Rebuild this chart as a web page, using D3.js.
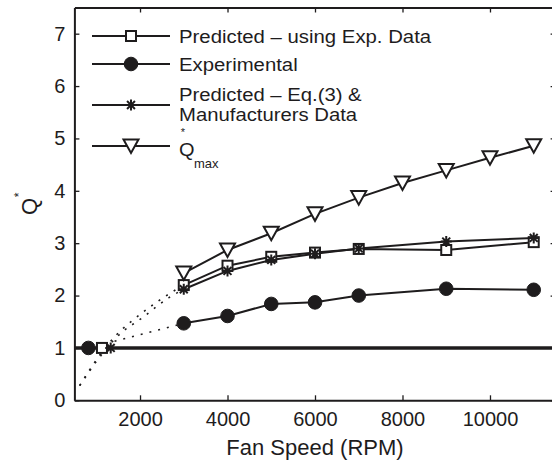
<!DOCTYPE html>
<html>
<head>
<meta charset="utf-8">
<script src="https://cdn.jsdelivr.net/npm/d3@7"></script>
<style>
  body { margin: 0; background: #fff; }
  svg { display: block; }
  text { font-family: "Liberation Sans", Arial, Helvetica, sans-serif; fill: #1e1c1d; }
</style>
</head>
<body>
<svg id="chart" width="552" height="460"></svg>
<script>
// Measured fan speeds (RPM) and normalised flow Q*
const speeds = [3000, 4000, 5000, 6000, 7000, 9000, 11000];
const predictedExp = [2.20, 2.57, 2.74, 2.82, 2.89, 2.87, 3.02];
const experimental = [1.47, 1.61, 1.84, 1.87, 2.00, 2.13, 2.11];
const predictedEq3 = [2.12, 2.47, 2.68, 2.80, 2.90, 3.03, 3.10];
const maxSpeeds = [3000, 4000, 5000, 6000, 7000, 8000, 9000, 10000, 11000];
const qMax = [2.43, 2.87, 3.19, 3.56, 3.87, 4.15, 4.39, 4.63, 4.86];

// Low-speed operating points, all at Q* = 1
const baseSpeedExp = 820, baseSpeedPred = 1130, baseSpeedEq3 = 1330;
const baseQ = 1;

// Dotted extrapolations below 3000 RPM
const extPredSpeeds = [620, 800, 1000, 1200, 1450, 2050, 2700, 3000];
const extPredValues = [0.28, 0.52, 0.77, 1.00, 1.24, 1.67, 2.05, 2.20];
const extEq3Speeds = [620, 800, 1000, 1200, 1400, 2090, 2700, 3000];
const extEq3Values = [0.28, 0.50, 0.74, 0.95, 1.15, 1.60, 1.98, 2.12];
const extExpSpeeds = [baseSpeedExp, 3000];
const extExpValues = [baseQ, 1.47];

const xTicks = [2000, 4000, 6000, 8000, 10000];
const yTicks = [0, 1, 2, 3, 4, 5, 6, 7];
const xDomain = [500, 11500];
const yDomain = [0, 7.5];

const legendLabels = [
  ["Predicted \u2013 using Exp. Data"],
  ["Experimental"],
  ["Predicted \u2013 Eq.(3) &", "Manufacturers Data"],
  ["Q"]
];

const ink = "#1e1c1d";
const svg = d3.select("#chart");

const x = d3.scaleLinear().domain(xDomain).range([74.4, 555.6]);
const y = d3.scaleLinear().domain(yDomain).range([400.3, 7.5]);

const pts = (xs, ys) => xs.map((s, i) => [s, ys[i]]);
const line = d3.line().x(d => x(d[0])).y(d => y(d[1]));
const smooth = d3.line().x(d => x(d[0])).y(d => y(d[1])).curve(d3.curveMonotoneX);

// ---- axes (ticks pointing inward on all four sides)
function styleAxis(g) {
  g.attr("font-size", null).attr("font-family", null);
  g.select(".domain").attr("stroke", ink).attr("stroke-width", 2);
  g.selectAll(".tick line").attr("stroke", ink).attr("stroke-width", 1.3);
  g.selectAll(".tick text").attr("fill", ink).style("font-size", "20px");
}

svg.append("g")
  .attr("transform", `translate(0,${y(0)})`)
  .call(d3.axisBottom(x).tickValues(xTicks).tickSizeInner(-5).tickSizeOuter(0)
    .tickPadding(12).tickFormat(d3.format("d")))
  .call(styleAxis);

svg.append("g")
  .attr("transform", `translate(0,${y(yDomain[1])})`)
  .call(d3.axisTop(x).tickValues(xTicks).tickSizeInner(-5).tickSizeOuter(0).tickFormat(""))
  .call(styleAxis);

svg.append("g")
  .attr("transform", `translate(${x(xDomain[0])},0)`)
  .call(d3.axisLeft(y).tickValues(yTicks).tickSizeInner(-5).tickSizeOuter(0)
    .tickPadding(9).tickFormat(d3.format("d")))
  .call(styleAxis);

svg.append("g")
  .attr("transform", `translate(${x(xDomain[1])},0)`)
  .call(d3.axisRight(y).tickValues(yTicks).tickSizeInner(-5).tickSizeOuter(0).tickFormat(""))
  .call(styleAxis);

// ---- axis titles
svg.append("text")
  .attr("x", 315).attr("y", 455)
  .attr("text-anchor", "middle")
  .style("font-size", "22px")
  .text("Fan Speed (RPM)");

const yTitle = svg.append("g").attr("transform", "translate(37,207) rotate(-90)");
yTitle.append("text").attr("x", -8).attr("y", 0).style("font-size", "22px").text("Q");
yTitle.append("text").attr("x", 12).attr("y", -14).attr("text-anchor", "middle")
  .style("font-size", "12px").text("*");

// ---- reference line Q* = 1
svg.append("line")
  .attr("x1", x(xDomain[0])).attr("x2", x(xDomain[1]))
  .attr("y1", y(baseQ)).attr("y2", y(baseQ))
  .attr("stroke", ink).attr("stroke-width", 3.5);

// ---- dotted extrapolations
const dotted = svg.append("g").attr("fill", "none").attr("stroke", ink)
  .attr("stroke-width", 1.6).attr("stroke-dasharray", "2,7");
dotted.append("path").attr("d", smooth(pts(extPredSpeeds, extPredValues)));
dotted.append("path").attr("d", smooth(pts(extEq3Speeds, extEq3Values)));
dotted.append("path").attr("d", line(pts(extExpSpeeds, extExpValues)));

// ---- marker shapes
const starPath = (s) => {
  const d = s * 0.72;
  return `M${-s},0L${s},0M0,${-s}L0,${s}M${-d},${-d}L${d},${d}M${-d},${d}L${d},${-d}`;
};
const markers = {
  square: g => g.append("rect").attr("x", -5).attr("y", -5).attr("width", 10).attr("height", 10)
    .attr("fill", "#fff").attr("stroke", ink).attr("stroke-width", 2),
  circle: g => g.append("circle").attr("r", 6.8).attr("fill", ink).attr("stroke", ink).attr("stroke-width", 1),
  star: g => g.append("path").attr("d", starPath(5.5)).attr("fill", "none")
    .attr("stroke", ink).attr("stroke-width", 2),
  triangle: g => g.append("path").attr("d", "M-7.5,-6.5L7.5,-6.5L0,7Z")
    .attr("fill", "#fff").attr("stroke", ink).attr("stroke-width", 2).attr("stroke-linejoin", "miter")
};

const series = [
  { xs: speeds, ys: predictedExp, marker: "square", base: baseSpeedPred },
  { xs: speeds, ys: experimental, marker: "circle", base: baseSpeedExp },
  { xs: speeds, ys: predictedEq3, marker: "star", base: baseSpeedEq3 },
  { xs: maxSpeeds, ys: qMax, marker: "triangle", base: null }
];

series.forEach(s => {
  svg.append("path")
    .attr("d", line(pts(s.xs, s.ys)))
    .attr("fill", "none").attr("stroke", ink).attr("stroke-width", 2);
});
series.forEach(s => {
  const data = pts(s.xs, s.ys);
  if (s.base !== null) data.unshift([s.base, baseQ]);
  svg.append("g").selectAll("g").data(data).join("g")
    .attr("transform", d => `translate(${x(d[0])},${y(d[1])})`)
    .each(function () { markers[s.marker](d3.select(this)); });
});

// ---- legend
const legendRows = [36, 64, 105, 146];
const legend = svg.append("g");
series.forEach((s, i) => {
  const ry = legendRows[i];
  legend.append("line").attr("x1", 92).attr("x2", 170).attr("y1", ry).attr("y2", ry)
    .attr("stroke", ink).attr("stroke-width", 2);
  markers[s.marker](legend.append("g").attr("transform", `translate(131,${ry})`));
});
// legend text is set slightly wide, as in the printed figure
const legendText = (str, ty, size, sx) =>
  legend.append("text")
    .attr("transform", `translate(179,${ty}) scale(${sx},1)`)
    .style("font-size", size + "px").text(str);
legendText(legendLabels[0][0], 42.5, 18.5, 1.1);
legendText(legendLabels[1][0], 70.5, 18.5, 1.1);
legendText(legendLabels[2][0], 101, 17.5, 1.16);
legendText(legendLabels[2][1], 120.5, 17.5, 1.16);
legendText(legendLabels[3][0], 156, 19, 1.05);
legend.append("text").attr("x", 183).attr("y", 136).attr("text-anchor", "middle")
  .style("font-size", "11px").text("*");
legend.append("text").attr("x", 194).attr("y", 168).style("font-size", "13px").text("max");
</script>
</body>
</html>
